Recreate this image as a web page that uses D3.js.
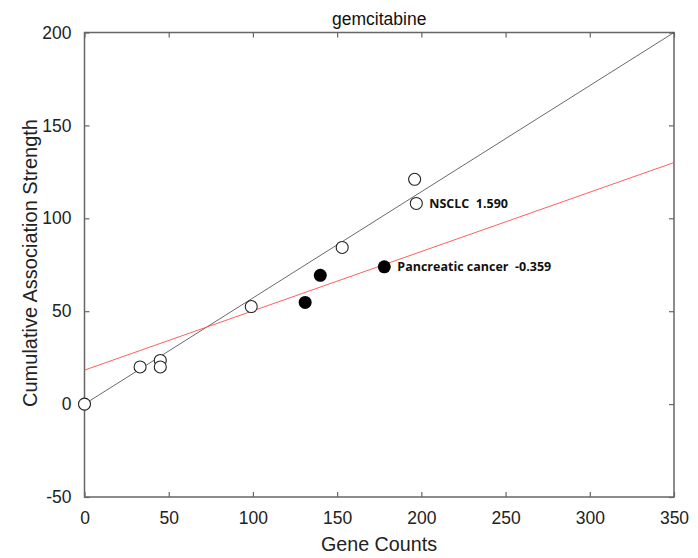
<!DOCTYPE html>
<meta charset="utf-8">
<script src="https://d3js.org/d3.v7.min.js"></script>
<style>
  body { margin: 0; background: #fff; }
  text { font-family: "Liberation Sans", Arial, sans-serif; }
</style>
<div id="chart"></div>
<script>
// data
const openX = [0, 33, 45, 45, 99, 153, 196, 197];
const openY = [0, 20, 23.5, 20, 52.5, 84.3, 121, 108];
const filledX = [131, 140, 178];
const filledY = [54.7, 69.3, 73.9];
const fitBlack = [[0, 0], [350, 200]];
const fitRed = [[0, 18.3], [350, 130]];
const notes = [
  {x: 197, y: 108, text: "NSCLC  1.590"},
  {x: 178, y: 73.9, text: "Pancreatic cancer  -0.359"}
];
const xTicks = [0, 50, 100, 150, 200, 250, 300, 350];
const yTicks = [-50, 0, 50, 100, 150, 200];

const W = 698, H = 558;
const margin = {top: 32.5, right: 24, bottom: 61, left: 84.5};
const width = W - margin.left - margin.right,
      height = H - margin.top - margin.bottom;

const svg = d3.select("#chart").append("svg")
    .attr("width", W).attr("height", H);
const g = svg.append("g")
    .attr("transform", `translate(${margin.left},${margin.top})`);

const x = d3.scaleLinear().domain([0, 350]).range([0, width]);
const y = d3.scaleLinear().domain([-50, 200]).range([height, 0]);

const axisColor = "#666";

// axes with inward ticks, plus mirrored ticks on top/right
function styleAxis(sel) {
  sel.select(".domain").remove();
  sel.selectAll(".tick line").attr("stroke", axisColor).attr("stroke-width", 1.2);
  sel.selectAll("text").attr("fill", "#222").style("font-size", "17.5px");
}
const fmt = d => String(d);
g.append("g").attr("transform", `translate(0,${height})`)
  .call(d3.axisBottom(x).tickValues(xTicks).tickFormat(fmt).tickSize(-5).tickPadding(15))
  .call(styleAxis);
g.append("g")
  .call(d3.axisLeft(y).tickValues(yTicks).tickFormat(fmt).tickSize(-5).tickPadding(13))
  .call(styleAxis);
g.append("g")
  .call(d3.axisTop(x).tickValues(xTicks).tickSize(-5).tickFormat(""))
  .call(styleAxis);
g.append("g").attr("transform", `translate(${width},0)`)
  .call(d3.axisRight(y).tickValues(yTicks).tickSize(-5).tickFormat(""))
  .call(styleAxis);

g.append("rect")
  .attr("width", width).attr("height", height)
  .attr("fill", "none").attr("stroke", axisColor).attr("stroke-width", 1.5);

// fitted lines
const line = d3.line().x(d => x(d[0])).y(d => y(d[1]));
g.append("path").datum(fitBlack).attr("d", line)
  .attr("stroke", "#444").attr("stroke-width", 0.8).attr("fill", "none");
g.append("path").datum(fitRed).attr("d", line)
  .attr("stroke", "#ff4d4d").attr("stroke-width", 0.9).attr("fill", "none");

// markers
g.selectAll(".open").data(openX).join("circle")
  .attr("cx", d => x(d)).attr("cy", (d, i) => y(openY[i]))
  .attr("r", 6).attr("fill", "#fff").attr("stroke", "#222").attr("stroke-width", 1.1);
g.selectAll(".filled").data(filledX).join("circle")
  .attr("cx", d => x(d)).attr("cy", (d, i) => y(filledY[i]))
  .attr("r", 6.5).attr("fill", "#000");

// annotations
g.selectAll(".note").data(notes).join("text")
  .attr("x", d => x(d.x) + 13).attr("y", d => y(d.y) + 4.5)
  .style("font-family", "'Open Sans', sans-serif")
  .style("font-weight", "bold").style("font-size", "12.5px")
  .style("white-space", "pre")
  .attr("fill", "#111").text(d => d.text);

// titles
svg.append("text").attr("x", margin.left + width / 2).attr("y", 25)
  .attr("text-anchor", "middle").style("font-size", "17.5px").attr("fill", "#111")
  .text("gemcitabine");
svg.append("text").attr("x", 379).attr("y", 551)
  .attr("text-anchor", "middle").style("font-size", "19.7px").attr("fill", "#222")
  .text("Gene Counts");
svg.append("text")
  .attr("transform", `translate(37,263) rotate(-90)`)
  .attr("text-anchor", "middle").style("font-size", "20px").attr("fill", "#222")
  .text("Cumulative Association Strength");
</script>
